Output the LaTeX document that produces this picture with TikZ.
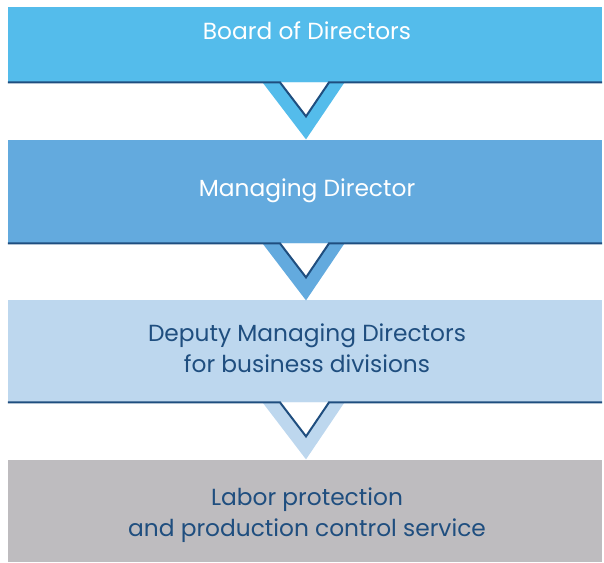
\documentclass[tikz,border=0pt]{standalone}
\usepackage{fontspec}
\setmainfont{Poppins}
\usetikzlibrary{calc}

\definecolor{boardblue}{HTML}{54BCEB}
\definecolor{mdblue}{HTML}{63AADE}
\definecolor{deputyblue}{HTML}{BDD7EE}
\definecolor{servgray}{HTML}{BEBCBF}
\definecolor{navy}{HTML}{1F4E7F}

\tikzset{
  orgbox/.style={rectangle, inner sep=0pt, minimum width=594pt, anchor=north},
  orgtext/.style={inner sep=0pt, align=center, font=\fontsize{23.3}{31}\selectfont},
  edgeline/.style={navy, line width=2pt, line join=miter},
}

% chevron under a box: #1 = box name, #2 = colour
\newcommand{\orgchevron}[2]{%
  \fill[#2] ($(#1.south)+(-42.5,0)$) -- ($(#1.south)+(39.5,0)$) -- ($(#1.south)+(1,57)$) -- cycle;
  \fill[white] ($(#1.south)+(-25,0)$) -- ($(#1.south)+(24,0)$) -- ($(#1.south)+(1,34)$) -- cycle;
  \draw[edgeline] (#1.south west) -- ($(#1.south)+(-25,0)$) -- ($(#1.south)+(1,34)$)
    -- ($(#1.south)+(24,0)$) -- (#1.south east);
}

\begin{document}
\begin{tikzpicture}[x=1pt, y=-1pt]

  %% ---- boxes ----
  \node[orgbox, fill=boardblue,  minimum height=75pt]  (board)   at (305,7)   {};
  \node[orgbox, fill=mdblue,     minimum height=103pt] (md)      at (305,140) {};
  \node[orgbox, fill=deputyblue, minimum height=102pt] (deputy)  at (305,300) {};
  \node[orgbox, fill=servgray,   minimum height=102pt] (service) at (305,460) {};

  %% ---- texts ----
  \node[orgtext, text=white] (boardt)   at (307,31)  {Board of Directors};
  \node[orgtext, text=white] (mdt)      at (307,191) {Managing Director};
  \node[orgtext, text=navy]  (deputyt)  at (307,348) {Deputy Managing Directors\\for business divisions};
  \node[orgtext, text=navy]  (servicet) at (307,515) {Labor protection\\and production control service};

  %% ---- chevrons ----
  \orgchevron{board}{boardblue}
  \orgchevron{md}{mdblue}
  \orgchevron{deputy}{deputyblue}

  \pgfresetboundingbox
  \path[use as bounding box] (0,0) rectangle (604,562);
\end{tikzpicture}
\end{document}
